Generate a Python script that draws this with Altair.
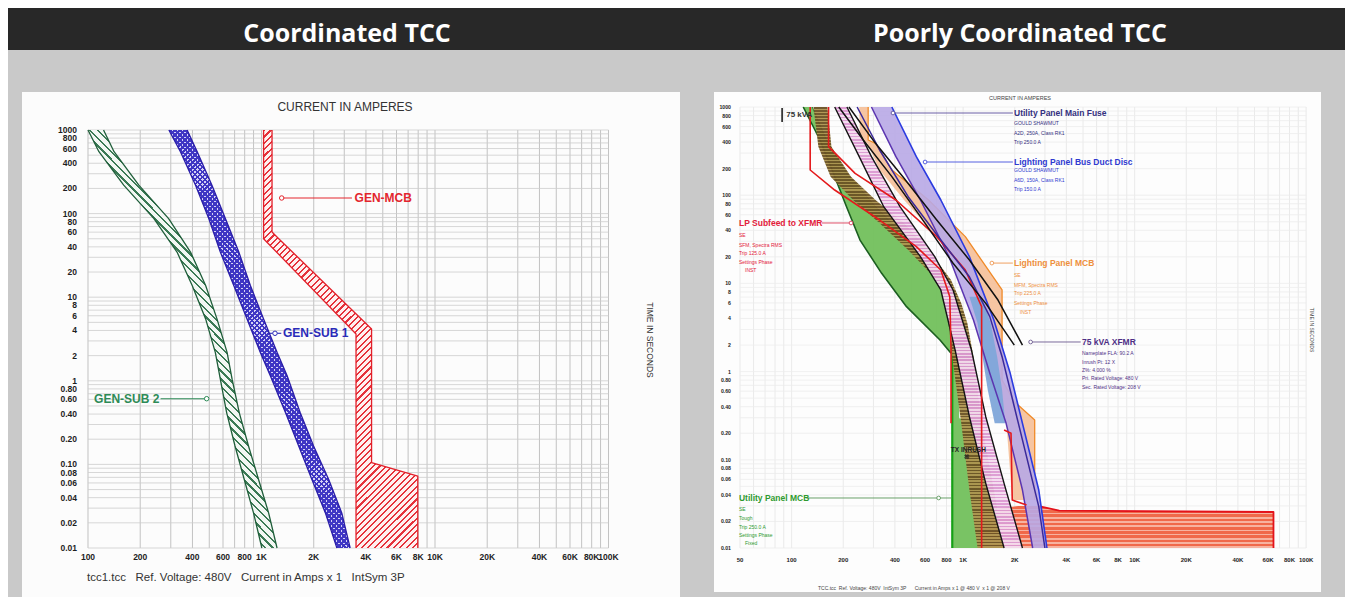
import altair as alt
import pandas as pd

FONT = "Liberation Sans, Arial, sans-serif"
FONT_H = "Open Sans, Noto Sans, sans-serif"

# ---------------- texts ----------------
TITLES = ["Coordinated TCC", "Poorly Coordinated TCC"]
AXIS_TITLE_X = "CURRENT IN AMPERES"
AXIS_TITLE_Y = "TIME IN SECONDS"
L_FOOTER = "tcc1.tcc\u00a0\u00a0 Ref. Voltage: 480V\u00a0\u00a0 Current in Amps x 1\u00a0\u00a0 IntSym 3P"
R_FOOTER = "TCC.tcc\u00a0 Ref. Voltage: 480V\u00a0 IntSym 3P\u00a0\u00a0\u00a0\u00a0\u00a0 Current in Amps x 1 @ 480 V\u00a0 x 1 @ 208 V"

# ---------------- ticks ----------------
L_XTICKS = [100, 200, 400, 600, 800, 1000, 2000, 4000, 6000, 8000, 10000, 20000, 40000, 60000, 80000, 100000]
L_XLABELS = ["100", "200", "400", "600", "800", "1K", "2K", "4K", "6K", "8K", "10K", "20K", "40K", "60K", "80K", "100K"]
R_XTICKS = [50] + L_XTICKS
R_XLABELS = ["50"] + L_XLABELS
YTICKS = [1000, 800, 600, 400, 200, 100, 80, 60, 40, 20, 10, 8, 6, 4, 2, 1,
          0.8, 0.6, 0.4, 0.2, 0.1, 0.08, 0.06, 0.04, 0.02, 0.01]
YLABELS = ["1000", "800", "600", "400", "200", "100", "80", "60", "40", "20", "10", "8", "6", "4", "2", "1",
           "0.80", "0.60", "0.40", "0.20", "0.10", "0.08", "0.06", "0.04", "0.02", "0.01"]

GRID_MULT = [1, 2, 3, 4, 5, 6, 7, 8, 9]
L_I_DECADES = [100, 1000, 10000]
R_I_DECADES = [10, 100, 1000, 10000]
T_DECADES = [0.01, 0.1, 1, 10, 100]
I_MAX = 100000
T_MIN, T_MAX = 0.01, 1000
L_I_MIN, R_I_MIN = 100, 50

# ---------------- left chart (coordinated) ----------------
SUB2_T = [1000, 549.5, 218.8, 87.1, 34.7, 13.8, 5.50, 2.19, 1.047, 0.417, 0.166, 0.066, 0.0263, 0.01]
SUB2_LO = [100, 115.6, 160.6, 239.9, 326, 398.6, 476.5, 541.7, 579, 629.6, 703.8, 795.6, 899.5, 1005]
SUB2_HI = [122.9, 141.3, 196.3, 291.6, 389.8, 476.5, 553.8, 633.2, 676.9, 744.2, 841.4, 961.6, 1099, 1229]

SUB1_T = [1000, 549.5, 218.8, 87.1, 34.7, 13.8, 5.50, 2.19, 1.148, 0.417, 0.166, 0.066, 0.0263, 0.01]
SUB1_LO = [292.5, 341, 416.8, 496.7, 579, 692, 825.3, 983.3, 1124, 1374, 1638, 1952, 2334, 2720]
SUB1_HI = [372.7, 426.1, 518, 619, 740, 862.6, 1028, 1229, 1405, 1670, 1996, 2440, 2901, 3243]

MCB_T = [1000, 60.3, 50.1, 4.17, 3.63, 0.105, 0.0724, 0.01]
MCB_LO = [1028, 1028, 1028, 3289, 3506, 3506, 3506, 3506]
MCB_HI = [1150, 1150, 1257, 4309, 4309, 4309, 7957, 7957]

L_NAMES = ["GEN-MCB", "GEN-SUB 1", "GEN-SUB 2"]
L_NAME_I = [3441, 1330, 258]
L_NAME_T = [153.7, 3.70, 0.611]
L_NAME_COL = ["#e3262e", "#2b2bb8", "#2e8b57"]
L_LEAD_I1 = [1307, 1119, 262]
L_LEAD_I2 = [3320, 1300, 483]
L_CIRC_I = [1307, 1196, 483]

# ---------------- right chart (poorly coordinated) ----------------
UMCB_T = [1000, 422.6, 177, 74.1, 31.0, 13.0, 5.45, 2.28, 1.611]
UMCB_LO = [116.9, 146.4, 175.4, 209, 250.5, 335, 467.7, 733.1, 850.3]
UMCB_HI = [131.9, 159.8, 210.2, 308.4, 478.2, 682.8, 805, 850.3, 864.3]
UMCBI_T = [1.611, 0.295, 0.2706, 0.01]
UMCBI_LO = [864.3, 864.3, 864.3, 864.3]
UMCBI_HI = [948.5, 948.5, 1282, 1282]
LPS_T = [1000, 355, 162.3, 88.2, 48.0, 23.9, 10.9, 5.94, 3.53, 1.477, 0.259, 0.0454, 0.01]
LPS_LO = [134.1, 143.2, 168.8, 228.2, 325.9, 478.2, 701.8, 805, 850.3, 864.3, 975.1, 1088, 1214]
LPS_HI = [161.6, 170.7, 222, 308.4, 452.5, 628.7, 850.3, 975.1, 1059, 1149, 1282, 1511, 1733]
PNK_T = [1000, 273.4, 74.1, 20.1, 8.42, 1.758, 0.308, 0.0541, 0.01]
PNK_LO = [178.3, 247.7, 344.3, 563.6, 741.3, 898, 1088, 1355, 1733]
PNK_HI = [210.2, 292, 428.5, 682.8, 873.7, 1118, 1355, 1733, 2218]
UMF_T = [1000, 273.4, 88.2, 20.1, 3.85, 0.956, 0.259, 0.0454, 0.01]
UMF_LO = [292, 405.7, 563.6, 827.2, 1149, 1431, 1781, 2218, 2544]
UMF_HI = [384.1, 533.4, 741.3, 1088, 1511, 1882, 2218, 2761, 3081]
BLU_T = [7.07, 3.53, 1.477, 0.619, 0.259]
BLU_LO = [1088, 1214, 1297, 1392, 1528]
BLU_HI = [1282, 1447, 1579, 1687, 1762]
LPM_T = [1000, 422.6, 387.3, 193.1, 88.2, 33.9, 8.42, 0.803, 0.456, 0.283, 0.035]
LPM_LO = [247.7, 250.5, 276.4, 325.9, 452.5, 701.8, 1214, 1392, 1687, 1781, 1934]
LPM_HI = [279.5, 279.5, 308.4, 384.1, 628.7, 1030, 1687, 1687, 1988, 2614, 2614]
INS_T = [0.0299, 0.0265, 0.0256, 0.01]
INS_LO = [2100, 1282, 1282, 1282]
INS_HI = [2761, 3633, 64510, 64510]

RED_A_I = [128.3, 128.3, 178.3, 325.9, 533.4, 741.3, 836, 850.3, 850.3]
RED_A_T = [1000, 193.1, 114.5, 52.3, 26.1, 14.2, 7.07, 1.758, 0.259]
RED_B_I = [164.2, 164.2, 234.5, 405.7, 701.8, 1030, 1282, 1282]
RED_B_T = [1000, 355, 177, 88.2, 33.9, 14.2, 5.45, 0.01]
RED_C_I = [1733, 1902, 1934, 2343]
RED_C_T = [0.2177, 0.1995, 0.035, 0.0307]
XF1_I = [188.3, 261.7, 384.1, 563.6, 873.7, 1355, 1988]
XF1_T = [1000, 422.6, 162.3, 57.1, 16.9, 5.94, 2.00]
XF2_I = [215.9, 308.4, 452.5, 701.8, 1088, 1597, 2218]
XF2_T = [1000, 387.3, 155.3, 52.3, 18.43, 6.48, 2.00]
NAVY_I = [241, 325.9, 478.2, 741.3, 1088, 1431, 1687, 1988, 2343, 2761, 2998]
NAVY_T = [1000, 325.4, 96.2, 31.0, 11.9, 4.20, 1.477, 0.400, 0.1085, 0.0294, 0.01]

R_NAMES = ["Utility Panel Main Fuse", "Lighting Panel Bus Duct Disc", "LP Subfeed to XFMR",
           "Lighting Panel MCB", "75 kVA XFMR", "Utility Panel MCB"]
R_NAME_I = [1980, 1980, 49.3, 1980, 4933, 49.3]
R_NAME_T = [855, 237.9, 48.4, 17.0, 2.166, 0.0369]
R_NAME_COL = ["#34307f", "#2f3ad0", "#e3203a", "#ee8f3c", "#4f2f86", "#2f9a2f"]
R_LEAD_I1 = [390, 600, 150, 1471, 2475, 121]
R_LEAD_I2 = [1950, 1950, 222, 1950, 4850, 850]
R_LEAD_COL = ["#6a5fa5", "#5560e0", "#e0506a", "#f0a060", "#7a6a9a", "#6aa06a"]
R_CIRC_I = [390, 600, 222, 1471, 2475, 720]

R_SUB_TXT = ["GOULD SHAWMUT", "A2D, 250A, Class RK1", "Trip 250.0 A",
             "GOULD SHAWMUT", "A6D, 150A, Class RK1", "Trip 150.0 A",
             "SE", "SFM, Spectra RMS", "Trip 125.0 A", "Settings Phase", "INST",
             "SE", "MFM, Spectra RMS", "Trip 225.0 A", "Settings Phase", "INST",
             "Nameplate FLA: 90.2 A", "Inrush Pt: 12 X", "Z%: 4.000 %", "Pri. Rated Voltage: 480 V", "Sec. Rated Voltage: 208 V",
             "SE", "Tough", "Trip 250.0 A", "Settings Phase", "Fixed"]
R_SUB_I = [1980, 1980, 1980, 1980, 1980, 1980,
           49.3, 49.3, 49.3, 49.3, 53.5,
           1980, 1980, 1980, 1980, 2140,
           4933, 4933, 4933, 4933, 4933,
           49.3, 49.3, 49.3, 49.3, 53.5]
R_SUB_T = [658, 507.5, 401, 193.1, 149, 117.6,
           35.4, 27.3, 22.1, 17.5, 14.2,
           12.5, 9.6, 7.78, 6.0, 4.77,
           1.625, 1.285, 1.042, 0.846, 0.669,
           0.0277, 0.0219, 0.0174, 0.0141, 0.01135]
R_SUB_COL = [R_NAME_COL[0]] * 3 + [R_NAME_COL[1]] * 3 + [R_NAME_COL[2]] * 5 + \
            [R_NAME_COL[3]] * 5 + [R_NAME_COL[4]] * 5 + [R_NAME_COL[5]] * 5

XF_TAG = ["75 kVA"]
XF_TAG_I, XF_TAG_T = [93], [812]
XF_BAR_I, XF_BAR_T1, XF_BAR_T2 = [88], [974], [676]
INRUSH_TXT, INRUSH_I, INRUSH_T = ["TX INRUSH"], [848], [0.129]
INRUSH_MARK_I, INRUSH_MARK_T = [1050], [0.1087]

# ---------------- scales (plot area = white panel) ----------------
L_XS = alt.Scale(type="log", domain=[10 ** 1.6196, 10 ** 5.4121], nice=False)
L_YS = alt.Scale(type="log", domain=[10 ** -2.5861, 10 ** 3.4545], nice=False)
R_XS = alt.Scale(type="log", domain=[10 ** 1.5474, 10 ** 5.0867], nice=False)
R_YS = alt.Scale(type="log", domain=[10 ** -2.4989, 10 ** 3.1701], nice=False)

ONE = pd.DataFrame({"k": [0]})


def grid_vals(decades, extra, vmin):
    s = {round(m * d, 6) for d in decades for m in GRID_MULT} | {extra}
    return sorted(v for v in s if v >= vmin)


def grid_layers(GI, XS, YS, imin, vcol, hcol):
    v = alt.Chart(pd.DataFrame({"I": GI})).mark_rule(color=vcol, strokeWidth=0.8).encode(
        x=alt.X("I:Q", scale=XS, axis=None),
        y=alt.YDatum(T_MIN, scale=YS, axis=None), y2=alt.Y2Datum(T_MAX))
    h = alt.Chart(pd.DataFrame({"t": grid_vals(T_DECADES, T_MAX, T_MIN)})).mark_rule(
        color=hcol, strokeWidth=0.8).encode(
        y=alt.Y("t:Q", scale=YS, axis=None),
        x=alt.XDatum(imin, scale=XS, axis=None), x2=alt.X2Datum(I_MAX))
    return [v, h]


def tick_labels(XS, YS, xt, xl, yt, yl, imin, fx, fy, dy, dx):
    xdf = pd.DataFrame({"I": xt, "t": [T_MIN] * len(xt), "txt": xl})
    ydf = pd.DataFrame({"I": [imin] * len(yt), "t": yt, "txt": yl})
    xl_ = alt.Chart(xdf).mark_text(align="center", baseline="middle", dy=dy, fontSize=fx,
                                   fontWeight="bold", font=FONT, color="#1e1e1e").encode(
        x=alt.X("I:Q", scale=XS, axis=None), y=alt.Y("t:Q", scale=YS, axis=None), text="txt:N")
    yl_ = alt.Chart(ydf).mark_text(align="right", baseline="middle", dx=dx, fontSize=fy,
                                   fontWeight="bold", font=FONT, color="#1e1e1e").encode(
        x=alt.X("I:Q", scale=XS, axis=None), y=alt.Y("t:Q", scale=YS, axis=None), text="txt:N")
    return [xl_, yl_]


def stripes(c1, c2, n, a, b, duty=0.5):
    corners = [(0, 0), (1, 0), (0, 1), (1, 1)]
    proj = [u * a + v * b for u, v in corners]
    pmin, pmax = min(proj), max(proj)
    u0, v0 = corners[proj.index(pmin)]
    k = (pmax - pmin) / (a * a + b * b)
    stops = []
    for j in range(n):
        s0, s1, s2 = j / n, (j + duty) / n, (j + 1) / n
        stops += [alt.GradientStop(offset=round(s0, 5), color=c1),
                  alt.GradientStop(offset=round(s1, 5), color=c1),
                  alt.GradientStop(offset=round(s1, 5), color=c2),
                  alt.GradientStop(offset=round(s2, 5), color=c2)]
    return alt.LinearGradient(gradient="linear", stops=stops, x1=u0, y1=v0,
                              x2=round(u0 + k * a, 5), y2=round(v0 + k * b, 5))


def band(T, LO, HI, XS, YS, fill, opacity=1.0):
    df = pd.DataFrame({"t": T, "lo": LO, "hi": HI})
    return alt.Chart(df).mark_area(orient="horizontal", fill=fill, opacity=opacity, strokeWidth=0).encode(
        y=alt.Y("t:Q", scale=YS, axis=None),
        x=alt.X("lo:Q", scale=XS, axis=None),
        x2="hi:Q")


def edge(T, I, XS, YS, color, width):
    df = pd.DataFrame({"t": T, "I": I, "s": list(range(len(T)))})
    return alt.Chart(df).mark_line(color=color, strokeWidth=width, strokeJoin="round").encode(
        x=alt.X("I:Q", scale=XS, axis=None), y=alt.Y("t:Q", scale=YS, axis=None), order="s:Q")


def texts(txt, I, t, col, XS, YS, size, weight="normal", align="left", font=FONT):
    df = pd.DataFrame({"txt": txt, "I": I, "t": t, "col": col})
    return alt.Chart(df).mark_text(align=align, baseline="middle", fontSize=size,
                                   fontWeight=weight, font=font).encode(
        x=alt.X("I:Q", scale=XS, axis=None), y=alt.Y("t:Q", scale=YS, axis=None),
        text="txt:N", color=alt.Color("col:N", scale=None))


def leaders(I1, I2, t, col, XS, YS, width=1.0):
    df = pd.DataFrame({"I1": I1, "I2": I2, "t": t, "col": col})
    return alt.Chart(df).mark_rule(strokeWidth=width).encode(
        x=alt.X("I1:Q", scale=XS, axis=None), x2="I2:Q", y=alt.Y("t:Q", scale=YS, axis=None),
        color=alt.Color("col:N", scale=None))


def circles(I, t, col, XS, YS, size=22):
    df = pd.DataFrame({"I": I, "t": t, "col": col})
    return alt.Chart(df).mark_point(shape="circle", fill="white", fillOpacity=1, strokeWidth=1,
                                    size=size, opacity=1).encode(
        x=alt.X("I:Q", scale=XS, axis=None), y=alt.Y("t:Q", scale=YS, axis=None),
        stroke=alt.Stroke("col:N", scale=None))


def ptext(txt, x, y, size, color="#333333", angle=0, align="center", font=FONT, weight="normal"):
    return alt.Chart(ONE).mark_text(text=txt, align=align, baseline="middle", fontSize=size, color=color,
                                    angle=angle, font=font, fontWeight=weight).encode(
        x=alt.value(x), y=alt.value(y))


def spacer(w):
    return alt.Chart(ONE).mark_point(opacity=0, size=1).encode(
        x=alt.value(w / 2), y=alt.value(5)).properties(width=w, height=10)


# ---------------- header ----------------
header = alt.layer(
    ptext(TITLES[0], 339, 26, 25, color="white", font=FONT_H, weight="bold"),
    ptext(TITLES[1], 1012, 26, 25, color="white", font=FONT_H, weight="bold"),
).properties(width=1337, height=42, view=alt.ViewBackground(fill="#282828", strokeWidth=0))

# ---------------- left panel ----------------
LX, LY = L_XS, L_YS
left_layers = grid_layers(grid_vals(L_I_DECADES, I_MAX, L_I_MIN), LX, LY, L_I_MIN, "#b4b4b4", "#cdcdcd")
left_layers += tick_labels(LX, LY, L_XTICKS, L_XLABELS, YTICKS, YLABELS, L_I_MIN, 8.5, 8.5, 9, -11)
left_layers += [
    band(SUB2_T, SUB2_LO, SUB2_HI, LX, LY, stripes("#3b7a55", "#f2f7f3", 78, -0.4545, 1, 0.3)),
    edge(SUB2_T, SUB2_LO, LX, LY, "#1f5e3a", 1.3),
    edge(SUB2_T, SUB2_HI, LX, LY, "#1f5e3a", 1.3),
    band(SUB1_T, SUB1_LO, SUB1_HI, LX, LY, "#d6d2f5"),
    band(SUB1_T, SUB1_LO, SUB1_HI, LX, LY, stripes("#3f36c4", "rgba(255,255,255,0)", 121, -0.433, 1, 0.55)),
    band(SUB1_T, SUB1_LO, SUB1_HI, LX, LY, stripes("#3f36c4", "rgba(255,255,255,0)", 121, 0.433, 1, 0.55)),
    edge(SUB1_T, SUB1_LO, LX, LY, "#2b1fa8", 1.3),
    edge(SUB1_T, SUB1_HI, LX, LY, "#2b1fa8", 1.3),
    band(MCB_T, MCB_LO, MCB_HI, LX, LY, stripes("#e5323b", "#fff0f0", 90, 0.368, 1, 0.33)),
    edge(MCB_T, MCB_LO, LX, LY, "#e3202a", 1.3),
    edge(MCB_T, MCB_HI, LX, LY, "#e3202a", 1.3),
    leaders(L_LEAD_I1, L_LEAD_I2, L_NAME_T, L_NAME_COL, LX, LY, 1.1),
    circles(L_CIRC_I, L_NAME_T, L_NAME_COL, LX, LY, 20),
    texts(L_NAMES[:2], L_NAME_I[:2], L_NAME_T[:2], L_NAME_COL[:2], LX, LY, 12, "bold", "left"),
    texts(L_NAMES[2:], L_NAME_I[2:], L_NAME_T[2:], L_NAME_COL[2:], LX, LY, 12, "bold", "right"),
    ptext(AXIS_TITLE_X, 323, 15, 12, color="#333333"),
    ptext(AXIS_TITLE_Y, 628, 248, 8.5, color="#333333", angle=90),
    ptext(L_FOOTER, 65, 486, 11.5, color="#333333", align="left"),
]
left = alt.layer(*left_layers).properties(
    width=658, height=505, view=alt.ViewBackground(fill="#fcfcfc", strokeWidth=0))

# ---------------- right panel ----------------
RX, RY = R_XS, R_YS
right_layers = grid_layers(grid_vals(R_I_DECADES, I_MAX, R_I_MIN), RX, RY, R_I_MIN, "#e4e4e4", "#ececec")
right_layers += tick_labels(RX, RY, R_XTICKS, R_XLABELS, YTICKS, YLABELS, R_I_MIN, 6, 5.2, 12, -9)
right_layers += [
    band(LPM_T, LPM_LO, LPM_HI, RX, RY, "#f5bf98", 0.9),
    edge(LPM_T, LPM_HI, RX, RY, "#f08a28", 1.3),
    band(INS_T, INS_LO, INS_HI, RX, RY, stripes("#f0694a", "#f7b3a0", 10, 0, 1, 0.62)),
    edge(INS_T, INS_HI, RX, RY, "#e3121b", 1.8),
    band(UMCB_T, UMCB_LO, UMCB_HI, RX, RY, "#72c05c", 0.95),
    edge(UMCB_T, UMCB_LO, RX, RY, "#1b5e20", 1.6),
    edge(UMCB_T, UMCB_HI, RX, RY, "#2e7d32", 1.0),
    band(UMCBI_T, UMCBI_LO, UMCBI_HI, RX, RY, "#72c05c", 0.95),
    edge(UMCBI_T, UMCBI_LO, RX, RY, "#16a016", 2.2),
    band(LPS_T, LPS_LO, LPS_HI, RX, RY, stripes("#6b5224", "#ad944f", 147, 0, 1, 0.5), 0.95),
    band(UMF_T, UMF_LO, UMF_HI, RX, RY, "#b8a8e6", 0.9),
    band(BLU_T, BLU_LO, BLU_HI, RX, RY, "#7fa6d9", 0.95),
    band(PNK_T, PNK_LO, PNK_HI, RX, RY, stripes("#dc9ad2", "#f4dcef", 138, 0, 1, 0.5), 0.95),
    edge(PNK_T, PNK_LO, RX, RY, "#141414", 1.4),
    edge(PNK_T, PNK_HI, RX, RY, "#141414", 1.4),
    edge(UMF_T, UMF_LO, RX, RY, "#5b35b0", 1.5),
    edge(UMF_T, UMF_HI, RX, RY, "#2b3be0", 1.6),
    edge(RED_A_T, RED_A_I, RX, RY, "#e41a1c", 1.6),
    edge(RED_B_T, RED_B_I, RX, RY, "#e41a1c", 1.6),
    edge(RED_C_T, RED_C_I, RX, RY, "#e41a1c", 1.6),
    edge(NAVY_T, NAVY_I, RX, RY, "#3a2a9a", 1.5),
    edge(XF1_T, XF1_I, RX, RY, "#111111", 1.5),
    edge(XF2_T, XF2_I, RX, RY, "#111111", 1.5),
    leaders(R_LEAD_I1, R_LEAD_I2, R_NAME_T, R_LEAD_COL, RX, RY, 1.0),
    circles(R_CIRC_I, R_NAME_T, R_LEAD_COL, RX, RY, 14),
    texts(R_NAMES, R_NAME_I, R_NAME_T, R_NAME_COL, RX, RY, 8.5, "bold", "left"),
    texts(R_SUB_TXT, R_SUB_I, R_SUB_T, R_SUB_COL, RX, RY, 5, "normal", "left"),
    texts(XF_TAG, XF_TAG_I, XF_TAG_T, ["#333333"], RX, RY, 8, "bold", "left"),
    alt.Chart(pd.DataFrame({"I": XF_BAR_I, "t1": XF_BAR_T1, "t2": XF_BAR_T2})).mark_rule(
        color="#222222", strokeWidth=1.6).encode(
        x=alt.X("I:Q", scale=RX, axis=None), y=alt.Y("t1:Q", scale=RY, axis=None), y2="t2:Q"),
    texts(INRUSH_TXT, INRUSH_I, INRUSH_T, ["#222222"], RX, RY, 6.5, "bold", "left"),
    alt.Chart(pd.DataFrame({"I": INRUSH_MARK_I, "t": INRUSH_MARK_T})).mark_point(
        shape="cross", angle=45, size=30, filled=True, color="#222222").encode(
        x=alt.X("I:Q", scale=RX, axis=None), y=alt.Y("t:Q", scale=RY, axis=None)),
    ptext(AXIS_TITLE_X, 306, 6, 5.5, color="#444444"),
    ptext(AXIS_TITLE_Y, 598, 238, 5, color="#444444", angle=90),
    ptext(R_FOOTER, 104, 496, 5, color="#444444", align="left"),
]
right = alt.layer(*right_layers).properties(
    width=607, height=500, view=alt.ViewBackground(fill="#fdfdfd", strokeWidth=0))

row = alt.hconcat(spacer(14), left, spacer(34), right, spacing=0)
chart = alt.vconcat(header, row, spacing=42).properties(
    padding={"left": 0, "top": 0, "right": 0, "bottom": 0}
).configure(background="#c9c9c9").configure_view(strokeWidth=0)

chart.save("out.html", embed_options={"renderer": "svg", "actions": False})
